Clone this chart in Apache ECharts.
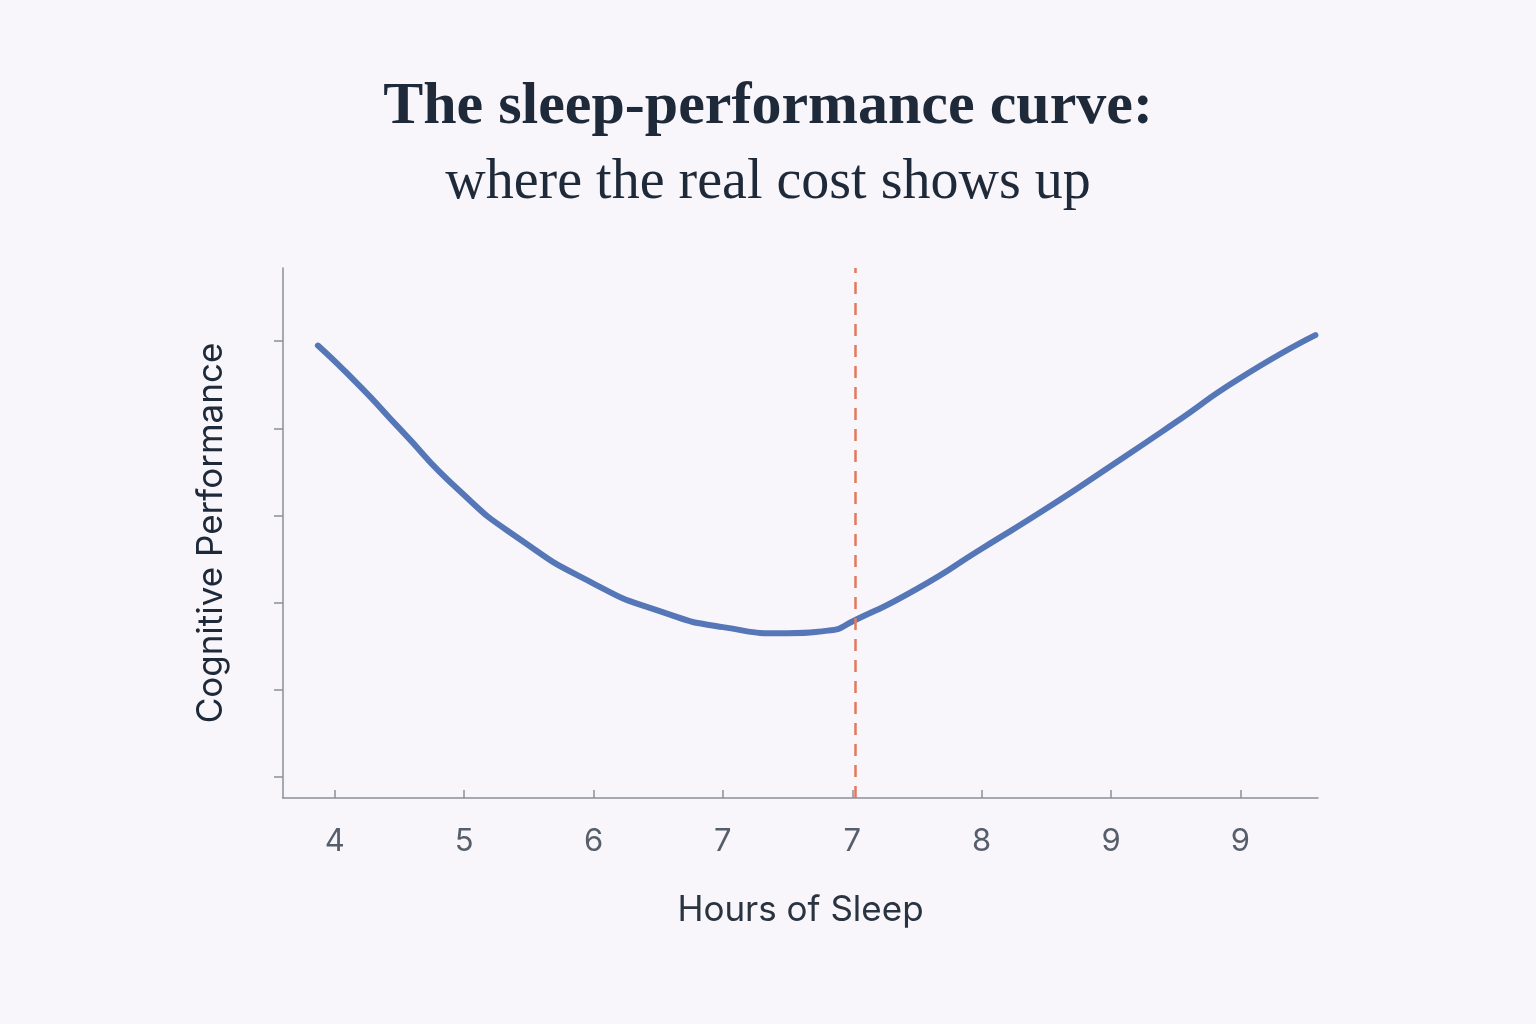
<!DOCTYPE html>
<html><head><meta charset="utf-8">
<script src="https://cdn.jsdelivr.net/npm/echarts@6/dist/echarts.min.js"></script>
<style>html,body{margin:0;padding:0;background:#f8f6fa}#c{width:1536px;height:1024px}</style>
</head><body><div id="c"></div>
<script>
const tickLabels = ['4','5','6','7','7','8','9','9'];
const curveX = [-0.13,0.19,0.5,0.96,1.42,2.0,2.5,3.0,3.5,3.81,4.02,4.5,5.0,5.5,5.99,6.5,6.99,7.58];
const curveY = [4.95,4.49,4.0,3.29,2.74,2.22,1.91,1.72,1.65,1.68,1.80,2.16,2.62,3.08,3.56,4.07,4.57,5.07];
const markerX = 4.02;
const yTicks = [0,1,2,3,4,5];

const chart = echarts.init(document.getElementById('c'));
const axisColor = '#8a909a';
chart.setOption({
  backgroundColor: '#f8f6fa',
  title: [
    {text: 'The sleep-performance curve:', left: 'center', top: 72,
     textStyle: {fontFamily: 'Liberation Serif', fontWeight: 'bold', fontSize: 60, color: '#1e2a3a'}},
    {text: 'where the real cost shows up', left: 'center', top: 150,
     textStyle: {fontFamily: 'Liberation Serif', fontWeight: 'normal', fontSize: 56, color: '#1e2a3a'}}
  ],
  grid: {left: 283, right: 218, top: 268, bottom: 226},
  xAxis: {
    type: 'value', min: -0.4, max: 7.6,
    name: 'Hours of Sleep', nameLocation: 'middle', nameGap: 95,
    nameTextStyle: {fontFamily: 'Inter', fontSize: 35, color: '#2a3340'},
    axisLine: {onZero: false, lineStyle: {color: axisColor, width: 1.5}},
    axisTick: {show: true, customValues: tickLabels.map((_, i) => i), length: 8, inside: true, lineStyle: {color: axisColor, width: 1.5}},
    axisLabel: {customValues: tickLabels.map((_, i) => i), formatter: v => tickLabels[Math.round(v)],
      fontFamily: 'Inter', fontSize: 31, color: '#555e6a', margin: 28},
    splitLine: {show: false}
  },
  yAxis: {
    type: 'value', min: -0.24, max: 5.84,
    name: 'Cognitive Performance', nameLocation: 'middle', nameGap: 54, nameRotate: 90,
    nameTextStyle: {fontFamily: 'Inter', fontSize: 35, color: '#1e2a3a'},
    axisLine: {show: true, onZero: false, lineStyle: {color: axisColor, width: 1.5}},
    axisTick: {show: true, customValues: yTicks, length: 9, lineStyle: {color: axisColor, width: 1.5}},
    axisLabel: {show: false},
    splitLine: {show: false}
  },
  series: [{
    type: 'line', smooth: 0.6, symbol: 'none',
    data: curveX.map((x, i) => [x, curveY[i]]),
    lineStyle: {color: '#5577b8', width: 6, cap: 'round'},
    markLine: {
      silent: true, symbol: 'none', label: {show: false},
      lineStyle: {color: '#e07a5f', type: [12, 9], width: 2.5},
      data: [{xAxis: markerX}]
    }
  }]
});
</script></body></html>
